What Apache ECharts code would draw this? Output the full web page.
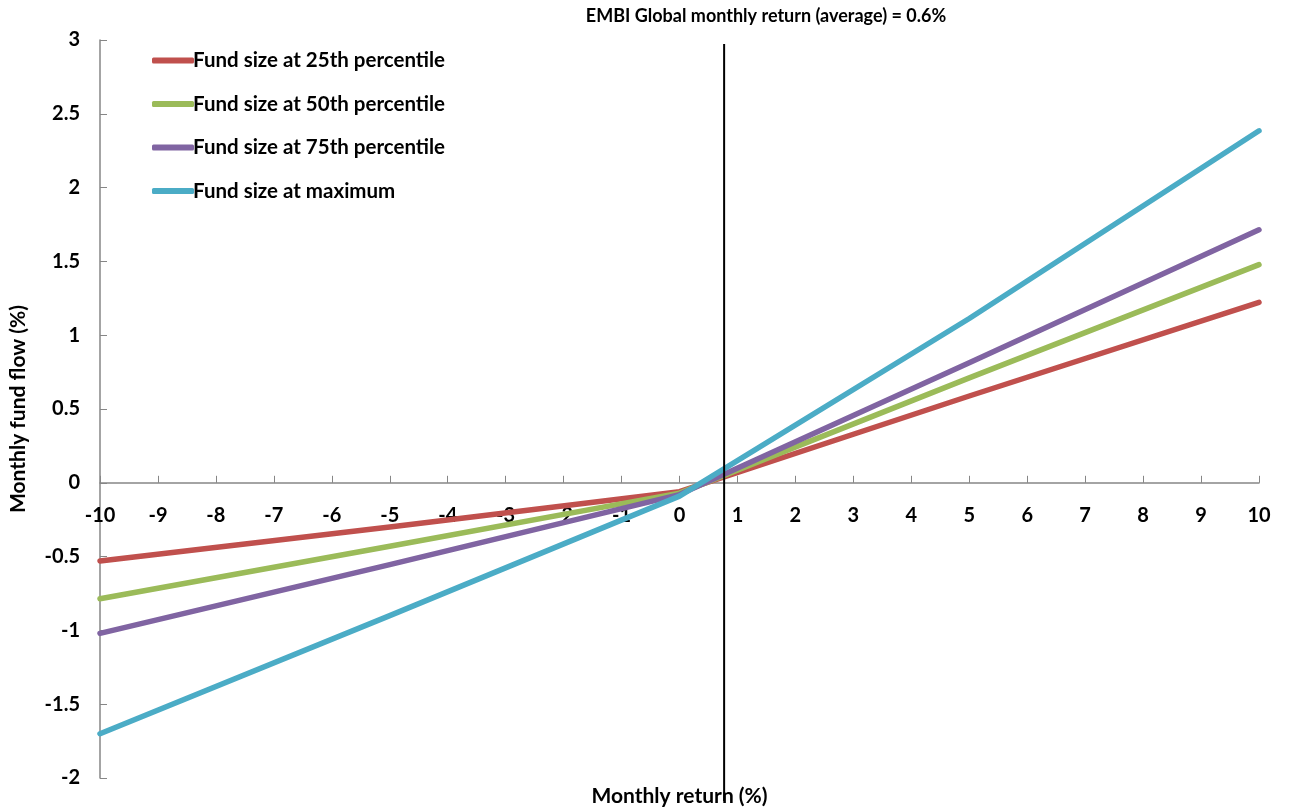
<!DOCTYPE html>
<html>
<head>
<meta charset="utf-8">
<script src="https://cdn.jsdelivr.net/npm/echarts@6/dist/echarts.min.js"></script>
<style>
html,body{margin:0;padding:0;background:#fff;}
#chart{width:1290px;height:811px;}
</style>
</head>
<body>
<div id="chart"></div>
<script>
// Data
const xValues = [-10, -5, 0, 5, 10];
const seriesNames = ['Fund size at 25th percentile', 'Fund size at 50th percentile', 'Fund size at 75th percentile', 'Fund size at maximum'];
const p25 = [-0.53, -0.30, -0.06, 0.588, 1.223];
const p50 = [-0.786, -0.43, -0.07, 0.711, 1.478];
const p75 = [-1.02, -0.554, -0.08, 0.813, 1.714];
const pMax = [-1.70, -0.90, -0.09, 1.113, 2.385];
const embiReturn = 0.77; // visible position of vertical marker
const titleText = 'EMBI Global monthly return (average) = 0.6%';
const xName = 'Monthly return (%)';
const yName = 'Monthly fund flow (%)';

const colors = ['#C0504D', '#9BBB59', '#8064A2', '#4BACC6'];
const font = 'Lato, "Open Sans", sans-serif';
const allValues = [p25, p50, p75, pMax];

function pairs(arr) { return xValues.map((x, i) => [x, arr[i]]); }

const chart = echarts.init(document.getElementById('chart'));
const option = {
  backgroundColor: '#fff',
  animation: false,
  color: colors,
  grid: { left: 93, right: 31, top: 40, bottom: 33, containLabel: false },
  legend: {
    orient: 'vertical',
    left: 147,
    top: 45,
    itemWidth: 42,
    itemHeight: 6,
    itemGap: 22.5,
    icon: 'roundRect',
    textStyle: { fontFamily: font, fontWeight: 'bold', fontSize: 20.5, lineHeight: 20, color: '#000', padding: [0, 0, 0, -6] },
    data: seriesNames
  },
  xAxis: {
    type: 'value',
    min: -10, max: 10, interval: 1,
    axisLine: { onZero: true, lineStyle: { color: '#868686', width: 1.5 } },
    axisTick: { show: true, inside: true, length: 7, lineStyle: { color: '#868686' } },
    axisLabel: { margin: 20, fontFamily: font, fontWeight: 'bold', fontSize: 20, color: '#000' },
    splitLine: { show: false }
  },
  yAxis: {
    type: 'value',
    min: -2, max: 3, interval: 0.5,
    name: yName,
    nameLocation: 'middle',
    nameGap: 71,
    nameTextStyle: { fontFamily: font, fontWeight: 'bold', fontSize: 21, color: '#000' },
    axisLine: { show: true, onZero: false, lineStyle: { color: '#868686', width: 1.5 } },
    axisTick: { show: true, inside: true, length: 7, lineStyle: { color: '#868686' } },
    axisLabel: { margin: 20, fontFamily: font, fontWeight: 'bold', fontSize: 20, color: '#000' },
    splitLine: { show: false }
  },
  series: allValues.map((arr, i) => ({
    name: seriesNames[i],
    type: 'line',
    data: pairs(arr),
    showSymbol: false,
    symbol: 'none',
    lineStyle: { width: 5.5, color: colors[i], cap: 'round', join: 'round' },
    itemStyle: { color: colors[i] },
    z: 2 + i
  }))
};
chart.setOption(option);

const topPix = chart.convertToPixel({ gridIndex: 0 }, [embiReturn, 3])[1];
const zeroY = chart.convertToPixel({ gridIndex: 0 }, [0, 0])[1];
const bottomY = chart.convertToPixel({ gridIndex: 0 }, [0, -2])[1];
const xPix = chart.convertToPixel({ gridIndex: 0 }, [embiReturn, 0])[0];
const midX = (chart.convertToPixel({ gridIndex: 0 }, [-10, 0])[0] + chart.convertToPixel({ gridIndex: 0 }, [10, 0])[0]) / 2;
chart.setOption({
  xAxis: { axisLabel: { margin: zeroY + 20 - bottomY } },
  graphic: [
    { type: 'line', shape: { x1: xPix, y1: topPix + 4, x2: xPix, y2: 801 }, style: { stroke: '#000', lineWidth: 2 }, z: 100 },
    { type: 'text', x: 766, y: 16, style: { text: titleText, fontFamily: font, fontWeight: 'bold', fontSize: 18, fill: '#000', align: 'center', verticalAlign: 'middle' }, z: 100 },
    { type: 'text', x: midX, y: 796, style: { text: xName, fontFamily: font, fontWeight: 'bold', fontSize: 21, fill: '#000', align: 'center', verticalAlign: 'middle' }, z: 100 }
  ]
});
</script>
</body>
</html>
